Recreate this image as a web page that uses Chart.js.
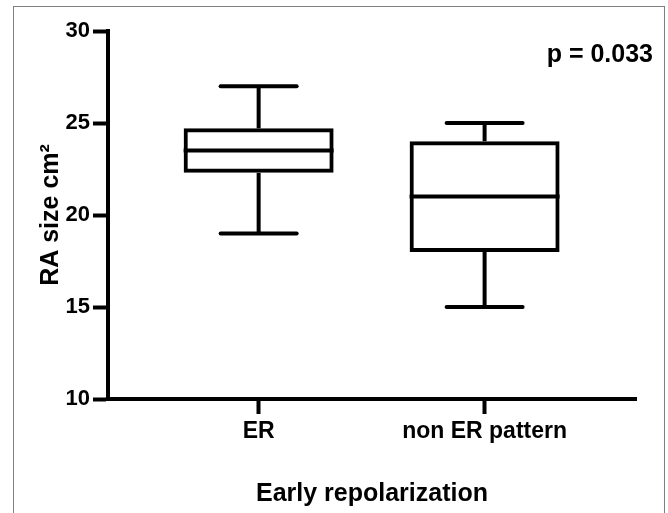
<!DOCTYPE html>
<html>
<head>
<meta charset="utf-8">
<script src="https://cdn.jsdelivr.net/npm/chart.js@4.4.1/dist/chart.umd.min.js"></script>
<style>
  html, body { margin: 0; padding: 0; background: #fff; }
  #wrap { width: 668px; height: 513px; }
</style>
</head>
<body>
<div id="wrap"><canvas id="boxChart" width="668" height="513"></canvas></div>
<script>
// box plot values
const groups = ['ER', 'non ER pattern'];
const whiskerMin = [19, 15];
const q1 = [22.4, 18.1];
const median = [23.5, 21.0];
const q3 = [24.6, 23.9];
const whiskerMax = [27, 25];
const yTicks = [10, 15, 20, 25, 30];
const pValueText = 'p = 0.033';

const FONT = 'Arial, "Liberation Sans", Helvetica, sans-serif';

// whiskers, medians, the p value and the grey frame are drawn on top of the bars
const boxExtras = {
  id: 'boxExtras',
  beforeDraw(chart) {
    const ctx = chart.ctx;
    ctx.save();
    ctx.fillStyle = '#fff';
    ctx.fillRect(0, 0, chart.width, chart.height);
    ctx.strokeStyle = '#808080';
    ctx.lineWidth = 1;
    ctx.strokeRect(13.5, 6.5, 651, 530);
    ctx.restore();
  },
  afterDatasetsDraw(chart) {
    const { ctx, scales: { x, y } } = chart;
    const bars = chart.getDatasetMeta(0).data;
    const seg = (x1, y1, x2, y2) => {
      ctx.beginPath();
      ctx.moveTo(x1, y1);
      ctx.lineTo(x2, y2);
      ctx.stroke();
    };
    ctx.save();
    ctx.strokeStyle = '#000';
    ctx.lineWidth = 4;
    groups.forEach((g, i) => {
      const cx = x.getPixelForValue(i + 1);
      const half = bars[i].width / 2 + 2;
      ctx.lineCap = 'butt';
      seg(cx - half, y.getPixelForValue(median[i]), cx + half, y.getPixelForValue(median[i]));
      seg(cx, y.getPixelForValue(q3[i]) - 2, cx, y.getPixelForValue(whiskerMax[i]));
      seg(cx, y.getPixelForValue(q1[i]) + 2, cx, y.getPixelForValue(whiskerMin[i]));
      ctx.lineCap = 'round';
      seg(cx - 38, y.getPixelForValue(whiskerMax[i]), cx + 38, y.getPixelForValue(whiskerMax[i]));
      seg(cx - 38, y.getPixelForValue(whiskerMin[i]), cx + 38, y.getPixelForValue(whiskerMin[i]));
    });
    ctx.fillStyle = '#000';
    ctx.font = 'bold 25px ' + FONT;
    ctx.textAlign = 'right';
    ctx.textBaseline = 'alphabetic';
    ctx.fillText(pValueText, chart.chartArea.right + 17, 62);
    ctx.restore();
  }
};

new Chart(document.getElementById('boxChart'), {
  type: 'bar',
  data: {
    datasets: [{
      data: groups.map((g, i) => ({ x: i + 1, y: [q1[i], q3[i]] })),
      backgroundColor: '#fff',
      borderColor: '#000',
      borderWidth: 4,
      borderSkipped: false,
      inflateAmount: 2,
      barPercentage: 0.646,
      categoryPercentage: 1
    }]
  },
  options: {
    responsive: false,
    animation: false,
    layout: { padding: { left: 14, right: 32, top: 31, bottom: 0 } },
    plugins: { legend: { display: false }, tooltip: { enabled: false } },
    scales: {
      x: {
        type: 'linear',
        offset: false,
        min: 1 / 3,
        max: 2.67,
        afterBuildTicks: s => { s.ticks = groups.map((g, i) => ({ value: i + 1 })); },
        afterFit: s => { s.height = 114; },
        ticks: {
          callback: v => groups[v - 1],
          autoSkip: false,
          maxRotation: 0,
          color: '#000',
          padding: 4,
          font: { family: FONT, size: 23, weight: 'bold' }
        },
        grid: { offset: false, drawOnChartArea: false, tickLength: 15, tickWidth: 4, tickColor: '#000' },
        border: { color: '#000', width: 4 },
        title: {
          display: true,
          text: 'Early repolarization',
          color: '#000',
          font: { family: FONT, size: 25, weight: 'bold' },
          padding: { top: 0, bottom: 4 }
        }
      },
      y: {
        min: 10,
        max: 30,
        afterBuildTicks: s => { s.ticks = yTicks.map(v => ({ value: v })); },
        afterFit: s => { s.width = 94; },
        ticks: {
          color: '#000',
          padding: 3,
          font: { family: FONT, size: 22, weight: 'bold' }
        },
        grid: { drawOnChartArea: false, tickLength: 15, tickWidth: 4, tickColor: '#000' },
        border: { color: '#000', width: 4 },
        title: {
          display: true,
          text: 'RA size cm²',
          color: '#000',
          font: { family: FONT, size: 25, weight: 'bold' },
          padding: { top: 22, bottom: 0 }
        }
      }
    }
  },
  plugins: [boxExtras]
});
</script>
</body>
</html>
